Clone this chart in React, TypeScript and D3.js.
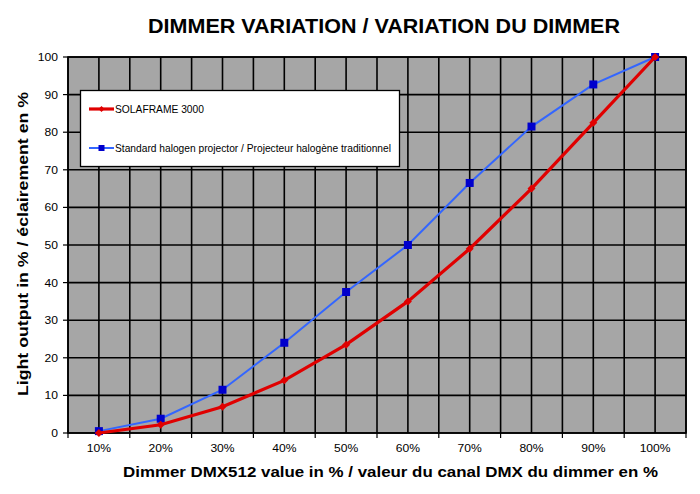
import React from "react";
import * as d3 from "d3";

const categories = ["10%", "20%", "30%", "40%", "50%", "60%", "70%", "80%", "90%", "100%"];
const solaframe = [0, 2.2, 7, 14, 23.5, 35, 49, 65, 82.5, 100];
const halogen = [0.5, 3.8, 11.5, 24, 37.5, 50, 66.5, 81.5, 92.7, 100];
const yTicks = [0, 10, 20, 30, 40, 50, 60, 70, 80, 90, 100];
const seriesNames = ["SOLAFRAME 3000", "Standard halogen projector / Projecteur halogène traditionnel"];

const W = 700, H = 494;
const L = 68, R = 686, T = 57, B = 433;

export default function App() {
  const x = d3.scaleBand<string>().domain(categories).range([L, R]);
  const y = d3.scaleLinear().domain([0, 100]).range([B, T]);
  const cx = (c: string) => (x(c) as number) + x.bandwidth() / 2;
  const line = d3.line<number>().x((_, i) => cx(categories[i])).y((d) => y(d));
  const font = "Liberation Sans, Arial, sans-serif";
  const boundaries = categories.map((c) => x(c) as number).concat([R]);
  const gw = 1.6;

  return (
    <svg width={W} height={H} style={{ position: "absolute", left: 0, top: 0 }} fontFamily={font}>
      <rect width={W} height={H} fill="#fff" />
      <text x={148} y={33} fontSize={19.5} fontWeight="bold" textLength={472} lengthAdjust="spacingAndGlyphs">
        DIMMER VARIATION / VARIATION DU DIMMER
      </text>
      <rect x={L} y={T} width={R - L} height={B - T} fill="#A6A6A6" />
      {boundaries.map((bx, i) => (
        <line key={"b" + i} x1={bx} x2={bx} y1={T} y2={B} stroke="#000" strokeWidth={gw} />
      ))}
      {categories.map((c) => (
        <line key={"c" + c} x1={cx(c)} x2={cx(c)} y1={T} y2={B} stroke="#000" strokeWidth={gw} />
      ))}
      {yTicks.map((t) => (
        <line key={"h" + t} x1={L} x2={R} y1={y(t)} y2={y(t)} stroke="#000" strokeWidth={gw} />
      ))}
      <rect x={L} y={T} width={R - L} height={B - T} fill="none" stroke="#000" strokeWidth={gw} />
      {yTicks.map((t) => (
        <g key={"yt" + t}>
          <line x1={L - 5} x2={L} y1={y(t)} y2={y(t)} stroke="#000" strokeWidth={1.2} />
          <text transform={`translate(${L - 10},${y(t) + 4}) scale(1.1,1)`} textAnchor="end" fontSize={11}>
            {t}
          </text>
        </g>
      ))}
      {boundaries.map((bx, i) => (
        <line key={"xt" + i} x1={bx} x2={bx} y1={B} y2={B + 5} stroke="#000" strokeWidth={1.2} />
      ))}
      {categories.map((c) => (
        <text key={"xl" + c} transform={`translate(${cx(c)},452) scale(1.1,1)`} textAnchor="middle" fontSize={11}>
          {c}
        </text>
      ))}
      <text x={123} y={477} fontSize={14.5} fontWeight="bold" textLength={535} lengthAdjust="spacingAndGlyphs">
        Dimmer DMX512 value in % / valeur du canal DMX du dimmer en %
      </text>
      <text
        transform={`translate(28,${244}) rotate(-90)`}
        textAnchor="middle"
        fontSize={15}
        fontWeight="bold"
        textLength={304}
        lengthAdjust="spacingAndGlyphs"
      >
        Light output in % / éclairement en %
      </text>
      <path d={line(halogen) || ""} fill="none" stroke="#3366FF" strokeWidth={2} />
      {halogen.map((v, i) => (
        <rect key={"hm" + i} x={cx(categories[i]) - 4} y={y(v) - 4} width={8} height={8} fill="#0000CC" />
      ))}
      <path d={line(solaframe) || ""} fill="none" stroke="#E00000" strokeWidth={3.2} />
      {solaframe.map((v, i) => (
        <path key={"sm" + i} d={`M${cx(categories[i])},${y(v) - 4}l4,4l-4,4l-4,-4z`} fill="#E00000" />
      ))}
      <rect x={80.5} y={90.5} width={319} height={76} fill="#fff" stroke="#000" strokeWidth={1.3} />
      <line x1={89} x2={114} y1={109} y2={109} stroke="#E00000" strokeWidth={3.2} />
      <path d={`M101.5,106l3,3l-3,3l-3,-3z`} fill="#E00000" />
      <text x={115} y={112.5} fontSize={10.5} textLength={89} lengthAdjust="spacingAndGlyphs">
        {seriesNames[0]}
      </text>
      <line x1={89} x2={114} y1={148} y2={148} stroke="#3366FF" strokeWidth={2} />
      <rect x={98.5} y={145} width={6} height={6} fill="#0000CC" />
      <text x={115} y={151.5} fontSize={10.5} textLength={276} lengthAdjust="spacingAndGlyphs">
        {seriesNames[1]}
      </text>
    </svg>
  );
}
